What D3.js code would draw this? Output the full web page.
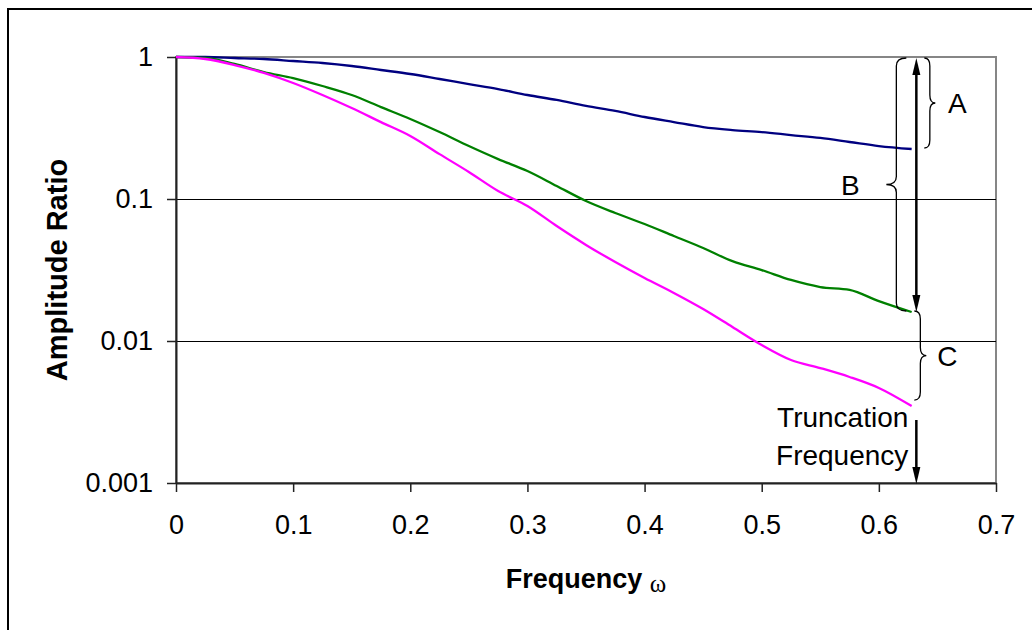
<!DOCTYPE html>

<head>
    <meta charset="utf-8">
    <title>Amplitude Ratio vs Frequency</title>
    <script type="text/javascript" src="https://d3js.org/d3.v7.min.js"></script>
    <style>
        body { margin: 0; background: #fff; }
        text { font-family: "Liberation Sans", Arial, sans-serif; fill: #000; }
    </style>
</head>

<body>
    <div id="container"></div>
    <script>
        //------------------------1. DATA------------------------//
        var freq = [0, 0.025, 0.05, 0.075, 0.1, 0.125, 0.15, 0.175, 0.2, 0.225, 0.25, 0.275, 0.3,
            0.325, 0.35, 0.375, 0.4, 0.425, 0.45, 0.475, 0.5, 0.525, 0.55, 0.575, 0.6, 0.628];

        var blueRatio = [1, 1, 0.984, 0.968, 0.937, 0.907, 0.864, 0.810, 0.759, 0.700, 0.645, 0.595, 0.540,
            0.498, 0.452, 0.417, 0.378, 0.348, 0.321, 0.306, 0.296, 0.282, 0.269, 0.252, 0.236, 0.225];

        var greenRatio = [1, 0.984, 0.893, 0.784, 0.711, 0.625, 0.540, 0.444, 0.366, 0.296, 0.236, 0.191, 0.1575,
            0.1235, 0.0968, 0.0797, 0.0667, 0.0549, 0.0452, 0.0365, 0.0316, 0.0269, 0.0240, 0.0229, 0.0191, 0.0160];

        var magentaRatio = [1, 0.968, 0.878, 0.772, 0.656, 0.540, 0.437, 0.348, 0.278, 0.207, 0.155, 0.1138, 0.0893,
            0.0645, 0.0475, 0.0360, 0.0278, 0.0218, 0.0168, 0.01255, 0.00937, 0.00735, 0.00645, 0.00558, 0.00467, 0.00348];

        var xTicks = [0, 0.1, 0.2, 0.3, 0.4, 0.5, 0.6, 0.7];
        var xTickLabels = ["0", "0.1", "0.2", "0.3", "0.4", "0.5", "0.6", "0.7"];
        var yTicks = [1, 0.1, 0.01, 0.001];
        var yTickLabels = ["1", "0.1", "0.01", "0.001"];
        var truncationFreq = 0.632;

        var series = [
            { name: "A", values: blueRatio, color: "#000080" },
            { name: "B", values: greenRatio, color: "#008000" },
            { name: "C", values: magentaRatio, color: "#FF00FF" }
        ];

        //------------------------2. SVG------------------------//
        var W = 1032, H = 630;
        var margin = { top: 57, right: 36, bottom: 147, left: 176 };

        var svg = d3.select("#container").append("svg")
            .attr("width", W).attr("height", H);

        // outer chart border
        svg.append("rect")
            .attr("x", 8).attr("y", 9)
            .attr("width", W + 20).attr("height", H + 20)
            .attr("fill", "#fff").attr("stroke", "#000").attr("stroke-width", 2);

        var x = d3.scaleLinear().domain([0, 0.7]).range([margin.left, W - margin.right]);
        var y = d3.scaleLog().domain([0.001, 1]).range([H - margin.bottom, margin.top]);

        // plot area border (gray)
        svg.append("rect")
            .attr("x", x(0)).attr("y", y(1))
            .attr("width", x(0.7) - x(0)).attr("height", y(0.001) - y(1))
            .attr("fill", "none").attr("stroke", "#868686").attr("stroke-width", 2);

        // gridlines
        svg.selectAll(".grid")
            .data([0.1, 0.01])
            .enter().append("line")
            .attr("class", "grid")
            .attr("x1", x(0)).attr("x2", x(0.7))
            .attr("y1", function (d) { return Math.round(y(d)) + 0.5; })
            .attr("y2", function (d) { return Math.round(y(d)) + 0.5; })
            .attr("stroke", "#000").attr("stroke-width", 1)
            .attr("shape-rendering", "crispEdges");

        //------------------------3. AXES------------------------//
        var xAxis = svg.append("g")
            .attr("transform", "translate(0," + y(0.001) + ")")
            .call(d3.axisBottom(x).tickValues(xTicks)
                .tickFormat(function (d, i) { return xTickLabels[i]; })
                .tickSize(9).tickSizeOuter(0).tickPadding(23));

        var yAxis = svg.append("g")
            .attr("transform", "translate(" + x(0) + ",0)")
            .call(d3.axisLeft(y).tickValues(yTicks)
                .tickFormat(function (d, i) { return yTickLabels[i]; })
                .tickSize(9).tickSizeOuter(0).tickPadding(14));

        [xAxis, yAxis].forEach(function (g) {
            g.select(".domain").attr("stroke", "#222").attr("stroke-width", 2);
            g.selectAll(".tick line").attr("stroke", "#222").attr("stroke-width", 1.5);
            g.selectAll(".tick text")
                .attr("font-size", 27)
                .attr("font-family", "Liberation Sans, Arial, sans-serif")
                .attr("fill", "#000");
        });

        //------------------------4. LINES------------------------//
        var line = d3.line()
            .x(function (d) { return x(d[0]); })
            .y(function (d) { return y(d[1]); })
            .curve(d3.curveMonotoneX);

        svg.selectAll(".series")
            .data(series)
            .enter().append("path")
            .attr("class", "series")
            .attr("fill", "none")
            .attr("stroke", function (d) { return d.color; })
            .attr("stroke-width", 2.3)
            .attr("d", function (d) {
                return line(freq.map(function (f, i) { return [f, d.values[i]]; }));
            });

        //------------------------5. ANNOTATIONS------------------------//
        var last = freq.length - 1;
        var yTop = y(1),
            yBlue = y(blueRatio[last]),
            yGreen = y(greenRatio[last]),
            yMag = y(magentaRatio[last]);
        var xT = x(truncationFreq);

        // curly brace: ends at xa, opens toward dir (+1 right, -1 left)
        function brace(xa, y0, y1, dir, w) {
            var xm = xa + dir * w / 2, xt = xa + dir * w, ym = (y0 + y1) / 2, r = 8;
            return "M" + xa + "," + y0 +
                "Q" + xm + "," + y0 + " " + xm + "," + (y0 + r) +
                "L" + xm + "," + (ym - r) +
                "Q" + xm + "," + ym + " " + xt + "," + ym +
                "Q" + xm + "," + ym + " " + xm + "," + (ym + r) +
                "L" + xm + "," + (y1 - r) +
                "Q" + xm + "," + y1 + " " + xa + "," + y1;
        }

        var braces = [
            { xa: xT + 8, y0: yTop + 1, y1: yBlue - 1, dir: 1, w: 11, label: "A", lx: xT + 41, ly: 10 },
            { xa: xT - 10, y0: yTop + 1, y1: yGreen - 1, dir: -1, w: 20, label: "B", lx: xT - 66, ly: 10 },
            { xa: xT - 2, y0: yGreen - 1, y1: yMag - 6, dir: 1, w: 12, label: "C", lx: xT + 31, ly: 10 }
        ];

        svg.selectAll(".brace")
            .data(braces)
            .enter().append("path")
            .attr("class", "brace")
            .attr("fill", "none").attr("stroke", "#000").attr("stroke-width", 1.3)
            .attr("d", function (d) { return brace(d.xa, d.y0, d.y1, d.dir, d.w); });

        svg.selectAll(".braceLabel")
            .data(braces)
            .enter().append("text")
            .attr("class", "braceLabel")
            .attr("x", function (d) { return d.lx; })
            .attr("y", function (d) { return (d.y0 + d.y1) / 2 + d.ly; })
            .attr("text-anchor", "middle")
            .attr("font-size", 28)
            .text(function (d) { return d.label; });

        // arrows
        function arrowHead(xp, yp, dir) {
            // dir: -1 points up, +1 points down
            var len = 17, hw = 4;
            return "M" + xp + "," + yp +
                "L" + (xp - hw) + "," + (yp - dir * len) +
                "L" + (xp + hw) + "," + (yp - dir * len) + "Z";
        }

        svg.append("line")
            .attr("x1", xT).attr("x2", xT)
            .attr("y1", yTop + 10).attr("y2", yGreen - 10)
            .attr("stroke", "#000").attr("stroke-width", 2.5);
        svg.append("path").attr("d", arrowHead(xT, yTop + 1, -1)).attr("fill", "#000");
        svg.append("path").attr("d", arrowHead(xT, yGreen, 1)).attr("fill", "#000");

        svg.append("line")
            .attr("x1", xT).attr("x2", xT)
            .attr("y1", 420).attr("y2", y(0.001) - 10)
            .attr("stroke", "#000").attr("stroke-width", 2.5);
        svg.append("path").attr("d", arrowHead(xT, y(0.001) + 1, 1)).attr("fill", "#000");

        svg.append("text")
            .attr("x", xT - 8).attr("y", 427)
            .attr("text-anchor", "end").attr("font-size", 28)
            .text("Truncation");
        svg.append("text")
            .attr("x", xT - 8).attr("y", 465)
            .attr("text-anchor", "end").attr("font-size", 28)
            .text("Frequency");

        //------------------------6. TITLES------------------------//
        var xTitle = svg.append("text")
            .attr("x", (x(0) + x(0.7)) / 2).attr("y", 588)
            .attr("text-anchor", "middle");
        xTitle.append("tspan")
            .attr("font-size", 27).attr("font-weight", "bold")
            .text("Frequency ");
        xTitle.append("tspan")
            .attr("font-size", 25)
            .attr("font-family", "Liberation Serif, Times New Roman, serif")
            .attr("dy", 4)
            .text("ω");

        svg.append("text")
            .attr("transform", "translate(67," + ((y(1) + y(0.001)) / 2) + ") rotate(-90)")
            .attr("text-anchor", "middle")
            .attr("font-size", 29).attr("font-weight", "bold")
            .text("Amplitude Ratio");
    </script>
</body>
